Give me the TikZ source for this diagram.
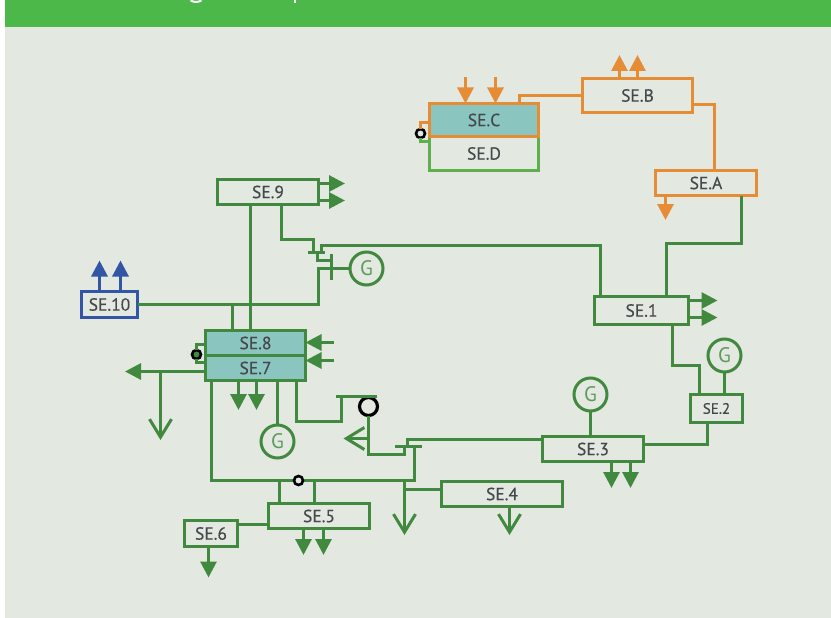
\documentclass[tikz,border=0pt]{standalone}
\usepackage{fontspec}
\setmainfont{PT Sans}
\newfontfamily\lblfont{PT Sans}[FakeBold=0.35]
\usetikzlibrary{arrows.meta}
\definecolor{hdr}{HTML}{4DB84A}
\definecolor{bgc}{HTML}{E3E8E1}
\definecolor{dg}{HTML}{41893F}
\definecolor{lg}{HTML}{5DB04D}
\definecolor{og}{HTML}{E68C35}
\definecolor{bl}{HTML}{3355A5}
\definecolor{teal}{HTML}{8BC5C0}
\definecolor{txt}{HTML}{45484A}
\tikzset{
  sebox/.style={draw=dg,line width=3pt,fill=bgc,inner sep=0pt,outer sep=0pt,text=txt,font=\lblfont\fontsize{17.5}{18}\selectfont},
  tealbox/.style={sebox,fill=teal},
  orbox/.style={sebox,draw=og},
  blbox/.style={sebox,draw=bl},
  gen/.style={circle,draw=dg,line width=3pt,minimum size=33pt,inner sep=0pt,outer sep=0pt,text=dg!85!white,fill=bgc,font=\fontsize{21}{21}\selectfont},
  ringa/.style={circle,draw=black,line width=3.2pt,minimum size=18pt,inner sep=0pt,outer sep=0pt,fill=bgc},
  ringb/.style={circle,draw=black,line width=2.6pt,minimum size=9pt,inner sep=0pt,outer sep=0pt,fill=bgc},
  wire/.style={draw=dg,line width=3pt,line cap=butt,line join=miter},
  orwire/.style={wire,draw=og},
  blwire/.style={wire,draw=bl},
  solid tip/.style={-{Triangle[length=16pt,width=16pt]}},
  open tip/.style={-{Straight Barb[length=18pt,width=22pt]}},
}
\begin{document}
\begin{tikzpicture}[x=1pt,y=-1pt]
\useasboundingbox (0,0) rectangle (831,618);
\fill[white] (0,0) rectangle (831,618);
\fill[hdr] (5,0) rectangle (831,27.5);
\fill[bgc] (5,27.5) rectangle (831,618);
% cut-off descenders of the header line
\draw[white,line width=2pt] (190.5,0.3) .. controls (194,2.6) and (198,2.6) .. (201.5,0.3);
\draw[white,line width=2.2pt] (295,0) -- (295,3);

% ---------- free ends and junctions
\coordinate (c1) at (465.5,77.5);   \coordinate (c2) at (495.5,77.5);
\coordinate (b1) at (619.5,55);     \coordinate (b2) at (637.5,55);
\coordinate (a1) at (665.5,220);
\coordinate (s9a) at (345,183.5);   \coordinate (s9b) at (345,200.5);
\coordinate (s1a) at (717.5,300.5); \coordinate (s1b) at (717.5,317.5);
\coordinate (t1) at (99.5,260.5);   \coordinate (t2) at (120.5,260.5);
\coordinate (i1) at (334,342.5);    \coordinate (i2) at (334,360.5);
\coordinate (l1) at (125,371.5);    \coordinate (l2) at (160.5,371.5);  \coordinate (l3) at (160.5,440);
\coordinate (d1) at (238.5,410);    \coordinate (d2) at (256.5,410);
\coordinate (d3) at (611.5,488);    \coordinate (d4) at (630.5,488);
\coordinate (d5) at (303.5,555);    \coordinate (d6) at (323.5,555);
\coordinate (d7) at (208.5,577.5);
\coordinate (v1) at (318.5,268.5);
\coordinate (q1) at (404.5,480.5);  \coordinate (q2) at (404.5,535);
\coordinate (q3) at (509.5,535);
\coordinate (r1) at (368.5,438.5);  \coordinate (r2) at (343.5,438.5);

% ---------- nodes
\node[sebox,minimum width=101pt,minimum height=25pt] (se9) at (268,192) {SE.9};
\node[blbox,minimum width=56pt,minimum height=26pt] (se10) at (109.5,304.5) {SE.10};
\node[tealbox,minimum width=100pt,minimum height=25pt] (se8) at (255.5,343) {SE.8};
\node[tealbox,minimum width=100pt,minimum height=25pt] (se7) at (255.5,368) {SE.7};
\node[sebox,minimum width=94pt,minimum height=28pt] (se1) at (641.5,310.5) {SE.1};
\node[sebox,minimum width=52pt,minimum height=28pt,font=\lblfont\fontsize{15}{16}\selectfont] (se2) at (716.5,408.5) {SE.2};
\node[sebox,minimum width=101pt,minimum height=25pt] (se3) at (593,449) {SE.3};
\node[sebox,minimum width=121pt,minimum height=25pt] (se4) at (502,494) {SE.4};
\node[sebox,minimum width=101pt,minimum height=25pt] (se5) at (319,516) {SE.5};
\node[sebox,minimum width=53pt,minimum height=26pt] (se6) at (211,533.5) {SE.6};
\node[orbox,minimum width=101pt,minimum height=25pt] (sea) at (706,183) {SE.A};
\node[orbox,minimum width=110pt,minimum height=34pt] (seb) at (637.5,95.5) {SE.B};
\node[sebox,draw=lg,minimum width=109pt,minimum height=34pt] (sed) at (484,153.5) {SE.D};
\node[orbox,fill=teal,minimum width=109pt,minimum height=33pt] (sec) at (484,120) {SE.C};
\node[gen] (g1) at (366.5,268.5) {G};
\node[gen] (g2) at (724.5,355.5) {G};
\node[gen] (g3) at (590.5,394.5) {G};
\node[gen] (g4) at (277.5,441.5) {G};
\node[ringa] (ra) at (368.5,406.5) {};
\node[ringb,fill=dg] (rc) at (196.5,354.5) {};
\node[ringb] (rd) at (420.5,133.5) {};

% ---------- connectors, orange
\draw[orwire,solid tip] (c1) -- (465.5,0 |- sec.north);
\draw[orwire,solid tip] (c2) -- (495.5,0 |- sec.north);
\draw[orwire,solid tip] (619.5,0 |- seb.north) -- (b1);
\draw[orwire,solid tip] (637.5,0 |- seb.north) -- (b2);
\draw[orwire,solid tip] (665.5,0 |- sea.south) -- (a1);
\draw[orwire] (seb.west) -| (519.5,0 |- sec.north);
\draw[orwire] (seb.east |- 0,104.5) -| (714.5,0 |- sea.north);
\draw[orwire] (sec.west |- 0,122.5) -| (rd.north);
\draw[wire,draw=lg] (rd.south) |- (sed.west |- 0,141.5);

% ---------- connectors, blue
\draw[blwire,solid tip] (99.5,0 |- se10.north) -- (t1);
\draw[blwire,solid tip] (120.5,0 |- se10.north) -- (t2);

% ---------- connectors, green
\draw[wire] (741.5,0 |- sea.south) |- (666.5,243.5) -- (666.5,0 |- se1.north);
\draw[wire,solid tip] (se9.east |- s9a) -- (s9a);
\draw[wire,solid tip] (se9.east |- s9b) -- (s9b);
\draw[wire,solid tip] (se1.east |- s1a) -- (s1a);
\draw[wire,solid tip] (se1.east |- s1b) -- (s1b);
\draw[wire] (250.5,0 |- se9.south) -- (250.5,0 |- se8.north);
% first valve
\draw[wire] (281.5,0 |- se9.south) |- (313.5,239.5) -- (313.5,252.5);
\draw[wire] (308,252.5) -- (325,252.5);
\draw[wire] (321.5,252.5) |- (600.5,245.5) -- (600.5,0 |- se1.north);
\draw[wire] (317.5,252.5) |- (331.5,260.5);
\draw[wire] (331.5,254) -- (331.5,280);
\draw[wire] (se10.east) -| (v1) -- (g1.west);
\draw[wire] (232.5,304.5) -- (232.5,0 |- se8.north);
% SE.8 / SE.7
\draw[wire,solid tip] (i1) -- (se8.east |- i1);
\draw[wire,solid tip] (i2) -- (se7.east |- i2);
\draw[wire] (se8.west |- 0,344.5) -| (rc.north);
\draw[wire] (rc.south) |- (se7.west |- 0,362.5);
\draw[wire,solid tip] (se7.west |- l1) -- (l1);
\draw[wire,open tip] (l2) -- (l3);
\draw[wire,solid tip] (238.5,0 |- se7.south) -- (d1);
\draw[wire,solid tip] (256.5,0 |- se7.south) -- (d2);
\draw[wire] (277.5,0 |- se7.south) -- (g4.north);
% second valve, ring
\draw[wire] (296.5,0 |- se7.south) |- (341.5,421.5) -- (341.5,396.5);
\draw[wire] (336,396.5) -- (377,396.5);
\draw[wire] (ra.south) |- (404.5,454.5) -- (404.5,446.5);
\draw[wire,open tip] (r1) -- (r2);
\draw[wire] (395,446.5) -- (422,446.5);
\draw[wire] (407.5,446.5) |- (se3.west |- 0,439.5);
\draw[wire] (211.5,0 |- se7.south) |- (414.5,480.5) -- (414.5,446.5);
\draw[wire,open tip] (q1) -- (q2);
\draw[wire] (404.5,489.5) -- (se4.west |- 0,489.5);
\draw[wire,open tip] (509.5,0 |- se4.south) -- (q3);
% SE.5, SE.6
\draw[wire] (279.5,480.5) -- (279.5,0 |- se5.north);
\draw[wire] (314.5,480.5) -- (314.5,0 |- se5.north);
\draw[wire] (se5.west |- 0,524.5) -- (se6.east |- 0,524.5);
\draw[wire,solid tip] (303.5,0 |- se5.south) -- (d5);
\draw[wire,solid tip] (323.5,0 |- se5.south) -- (d6);
\draw[wire,solid tip] (208.5,0 |- se6.south) -- (d7);
% SE.1, SE.2, SE.3
\draw[wire] (672.5,0 |- se1.south) |- (699.5,365.5) -- (699.5,0 |- se2.north);
\draw[wire] (g2.south) -- (724.5,0 |- se2.north);
\draw[wire] (707.5,0 |- se2.south) |- (se3.east |- 0,444.5);
\draw[wire] (g3.south) -- (590.5,0 |- se3.north);
\draw[wire,solid tip] (611.5,0 |- se3.south) -- (d3);
\draw[wire,solid tip] (630.5,0 |- se3.south) -- (d4);
% ring sitting on the SE.7 -- valve line
\node[ringb] (rb) at (298.5,480.5) {};
\end{tikzpicture}
\end{document}
